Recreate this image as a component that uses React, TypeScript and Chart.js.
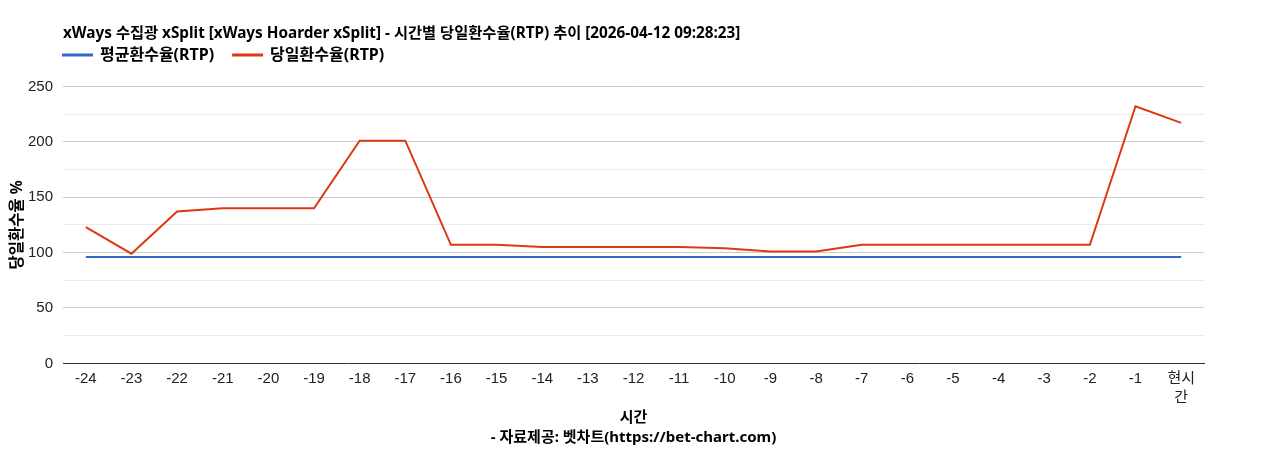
import { useEffect, useRef } from 'react';
import { Chart, registerables, Plugin } from 'chart.js';

Chart.register(...registerables);

const hours: (string | string[])[] = [
  '-24', '-23', '-22', '-21', '-20', '-19', '-18', '-17', '-16', '-15', '-14', '-13',
  '-12', '-11', '-10', '-9', '-8', '-7', '-6', '-5', '-4', '-3', '-2', '-1', ['현시', '간'],
];
const avgRtp = [
  96, 96, 96, 96, 96, 96, 96, 96, 96, 96, 96, 96, 96, 96, 96, 96, 96, 96, 96, 96, 96, 96, 96, 96, 96,
];
const dailyRtp = [
  123, 99, 137, 140, 140, 140, 201, 201, 107, 107, 105, 105, 105, 105, 104, 101, 101, 107, 107, 107,
  107, 107, 107, 232, 217,
];

const TICK_FONT = '"Liberation Sans", Arial, "Noto Sans CJK KR", sans-serif';
const BOLD_FONT = '"Noto Sans", "Noto Sans CJK KR", sans-serif';
const LEGEND_PAD = 19;
const LEGEND_SIZE = 16;

// put title and legend where the original has them
const headerPlacement: Plugin<'line'> = {
  id: 'headerPlacement',
  afterLayout(chart) {
    const c = chart as any;
    if (c.titleBlock) c.titleBlock.top = 24;
    if (c.legend) {
      c.legend.top = 55 - LEGEND_PAD - LEGEND_SIZE / 2;
      c.legend.left = chart.chartArea.left - LEGEND_PAD;
    }
  },
};

export default function App() {
  const chartRef = useRef<HTMLCanvasElement>(null);
  const chartInstance = useRef<Chart | null>(null);

  useEffect(() => {
    if (!chartRef.current) return;
    if (chartInstance.current) chartInstance.current.destroy();
    const ctx = chartRef.current.getContext('2d');
    if (!ctx) return;

    chartInstance.current = new Chart(ctx, {
      type: 'line',
      data: {
        labels: hours,
        datasets: [
          {
            label: '평균환수율(RTP)',
            data: avgRtp,
            borderColor: '#3366cc',
            backgroundColor: '#3366cc',
            borderWidth: 2,
            pointRadius: 0,
            tension: 0,
          },
          {
            label: '당일환수율(RTP)',
            data: dailyRtp,
            borderColor: '#dc3912',
            backgroundColor: '#dc3912',
            borderWidth: 2,
            pointRadius: 0,
            tension: 0,
          },
        ],
      },
      plugins: [headerPlacement],
      options: {
        responsive: true,
        maintainAspectRatio: false,
        animation: false,
        layout: { padding: { left: 8, right: 64, top: 23, bottom: 2 } },
        plugins: {
          title: {
            display: true,
            text: 'xWays 수집광 xSplit [xWays Hoarder xSplit] - 시간별 당일환수율(RTP) 추이 [2026-04-12 09:28:23]',
            align: 'start',
            fullSize: false,
            color: '#000',
            font: { family: BOLD_FONT, size: 15.3, weight: 'bold', lineHeight: 1.2 },
            padding: 0,
          },
          legend: {
            align: 'start',
            fullSize: false,
            labels: {
              color: '#000',
              font: { family: BOLD_FONT, size: LEGEND_SIZE, weight: 'bold' },
              boxWidth: 29,
              boxHeight: 1,
              padding: LEGEND_PAD,
            },
          },
          tooltip: { enabled: false },
        },
        scales: {
          x: {
            offset: true,
            grid: { display: false, drawTicks: false },
            border: { color: '#333', width: 1 },
            ticks: {
              color: '#222',
              padding: 6,
              font: { family: TICK_FONT, size: 15, lineHeight: 1.27 },
              maxRotation: 0,
              autoSkip: false,
            },
            title: {
              display: true,
              text: ['시간', '- 자료제공: 벳차트(https://bet-chart.com)'],
              color: '#000',
              font: { family: BOLD_FONT, size: 15, weight: 'bold', lineHeight: 1.35 },
              padding: { top: -6, bottom: 0 },
            },
          },
          y: {
            min: 0,
            max: 250,
            border: { display: false },
            afterFit: (scale) => {
              scale.width = 55;
            },
            grid: {
              color: (c) => (c.tick && c.tick.value % 50 === 0 ? '#cccccc' : '#ebebeb'),
              drawTicks: false,
            },
            ticks: {
              stepSize: 25,
              color: '#222',
              padding: 10,
              font: { family: TICK_FONT, size: 15 },
              callback: (v) => (Number(v) % 50 === 0 ? String(v) : ''),
            },
            title: {
              display: true,
              text: '당일환수율 %',
              color: '#000',
              font: { family: BOLD_FONT, size: 15.5, weight: 'bold' },
              padding: 0,
            },
          },
        },
      },
    });

    return () => {
      if (chartInstance.current) {
        chartInstance.current.destroy();
        chartInstance.current = null;
      }
    };
  }, []);

  return (
    <div style={{ position: 'absolute', left: 0, top: 0, width: 1268, height: 450, background: '#fff' }}>
      <canvas ref={chartRef}></canvas>
    </div>
  );
}
